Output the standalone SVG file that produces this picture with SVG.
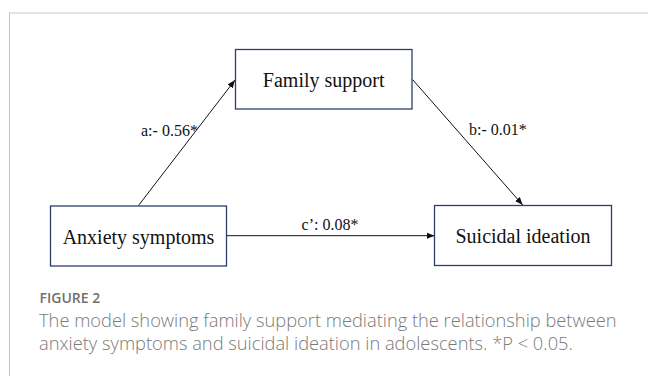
<svg xmlns="http://www.w3.org/2000/svg" width="648" height="376" viewBox="0 0 648 376">
  <defs>
    <style>
      .box { fill: #ffffff; stroke: #2e3d6b; stroke-width: 1.3; }
      .node-text { font-family: "Liberation Serif", "Times New Roman", serif; font-size: 20px; fill: #111111; text-anchor: middle; }
      .edge { stroke: #111111; stroke-width: 1; fill: none; marker-end: url(#arrow); }
      .edge-label { font-family: "Liberation Serif", "Times New Roman", serif; font-size: 16px; fill: #111111; }
      .cap-title { font-family: "Open Sans", "Noto Sans", sans-serif; font-size: 14px; font-weight: 600; fill: #707070; }
      .cap-text { font-family: "Open Sans", "Noto Sans", sans-serif; font-size: 18.3px; font-weight: 300; fill: #7a7a7a; }
    </style>
    <marker id="arrow" viewBox="0 0 10 10" refX="10" refY="5" markerWidth="8" markerHeight="8" markerUnits="userSpaceOnUse" orient="auto">
      <path d="M0,1 L10,5 L0,9 Z" fill="#111111"/>
    </marker>
  </defs>

  <rect x="0" y="0" width="648" height="376" fill="#ffffff"/>
  <!-- panel frame -->
  <rect x="9" y="12" width="639" height="2" fill="#e4e4e4"/>
  <rect x="9" y="12" width="1" height="364" fill="#c4c4c4"/>

  <g id="connectors">
    <line class="edge" x1="138.5" y1="205.5" x2="235" y2="80"/>
    <line class="edge" x1="412.5" y1="79.5" x2="522.7" y2="205"/>
    <line class="edge" x1="226.5" y1="235.7" x2="434.5" y2="235.7"/>
    <text class="edge-label" x="141" y="136">a:- 0.56*</text>
    <text class="edge-label" x="469" y="135">b:- 0.01*</text>
    <text class="edge-label" x="330" y="230" text-anchor="middle">c’: 0.08*</text>
  </g>

  <g id="node-family-support">
    <rect class="box" x="235.5" y="49.5" width="176.5" height="59.5"/>
    <text class="node-text" x="323.7" y="86.5">Family support</text>
  </g>

  <g id="node-anxiety-symptoms">
    <rect class="box" x="50.5" y="206" width="176" height="60"/>
    <text class="node-text" x="138.5" y="243.5">Anxiety symptoms</text>
  </g>

  <g id="node-suicidal-ideation">
    <rect class="box" x="434.5" y="205.5" width="177" height="60"/>
    <text class="node-text" x="523" y="243">Suicidal ideation</text>
  </g>

  <g id="caption">
    <text class="cap-title" x="39.5" y="302.7">FIGURE 2</text>
    <text class="cap-text" x="39" y="327">The model showing family support mediating the relationship between</text>
    <text class="cap-text" x="39" y="350">anxiety symptoms and suicidal ideation in adolescents. *P &lt; 0.05.</text>
  </g>
</svg>
